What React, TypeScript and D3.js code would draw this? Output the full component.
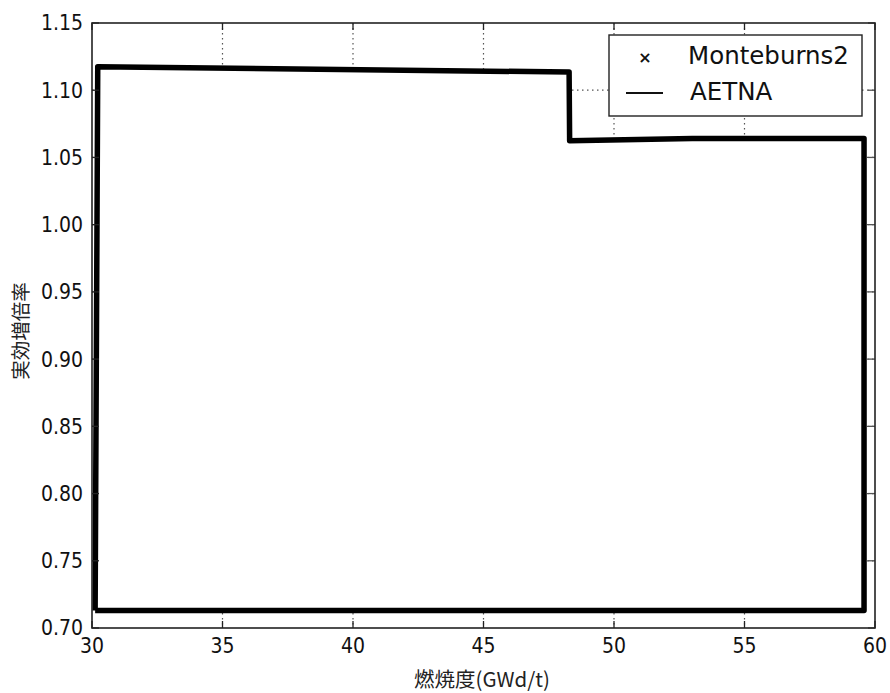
import React from "react";
import * as d3 from "d3";

const burnup = [30.12, 30.22, 48.28, 48.3, 53.0, 59.58, 59.58, 30.12];
const keff = [0.713, 1.1175, 1.1135, 1.0625, 1.064, 1.064, 0.713, 0.713];
const monteburnsX: number[] = [];
const monteburnsY: number[] = [];
const xTicks = [30, 35, 40, 45, 50, 55, 60];
const yTicks = [0.7, 0.75, 0.8, 0.85, 0.9, 0.95, 1.0, 1.05, 1.1, 1.15];
const legendLabels = ["Monteburns2", "AETNA"];
const xLabel = "燃焼度(GWd/t)";
const yLabel = "実効増倍率";

export default function App() {
  const W = 890, H = 693;
  const L = 92, R = 875, T = 23, B = 628;
  const x = d3.scaleLinear().domain([30, 60]).range([L, R]);
  const y = d3.scaleLinear().domain([0.7, 1.15]).range([B, T]);
  const pts = burnup.map((b, i) => [b, keff[i]] as [number, number]);
  const line = d3.line<[number, number]>().x(d => x(d[0])).y(d => y(d[1]));
  const font = "'DejaVu Sans', sans-serif";
  const cjk = "'Noto Sans CJK JP', sans-serif";
  const tick = 7;
  return (
    <svg width={W} height={H} style={{ position: "absolute", left: 0, top: 0, background: "#fff" }}>
      <rect x={0} y={0} width={W} height={H} fill="#fff" />
      {/* grid */}
      {xTicks.slice(1, -1).map(t => (
        <line key={"gx" + t} x1={x(t)} x2={x(t)} y1={T} y2={B} stroke="#555" strokeWidth={1.2} strokeDasharray="1.5,3.5" />
      ))}
      {yTicks.slice(1, -1).map(t => (
        <line key={"gy" + t} x1={L} x2={R} y1={y(t)} y2={y(t)} stroke="#555" strokeWidth={1.2} strokeDasharray="1.5,3.5" />
      ))}
      {/* AETNA line (closed, white interior) */}
      <path d={line(pts) || ""} fill="#fff" stroke="#000" strokeWidth={5.5} strokeLinejoin="round" />
      {/* ticks */}
      {xTicks.map(t => (
        <g key={"tx" + t}>
          <line x1={x(t)} x2={x(t)} y1={B} y2={B - tick} stroke="#222" strokeWidth={1.3} />
          <line x1={x(t)} x2={x(t)} y1={T} y2={T + tick} stroke="#222" strokeWidth={1.3} />
          <text x={x(t)} y={653} textAnchor="middle" fontFamily={font} fontSize={21} fill="#111"
            transform={`translate(${x(t)},0) scale(0.9,1) translate(${-x(t)},0)`}>{t}</text>
        </g>
      ))}
      {yTicks.map(t => (
        <g key={"ty" + t}>
          <line x1={L} x2={L + tick} y1={y(t)} y2={y(t)} stroke="#222" strokeWidth={1.3} />
          <line x1={R} x2={R - tick} y1={y(t)} y2={y(t)} stroke="#555" strokeWidth={1.3} />
          <text x={83} y={y(t) + 7.5} textAnchor="end" fontFamily={font} fontSize={21} fill="#111"
            transform={`translate(83,0) scale(0.9,1) translate(-83,0)`}>{t.toFixed(2)}</text>
        </g>
      ))}
      {monteburnsX.map((v, i) => (
        <text key={"m" + i} x={x(v)} y={y(monteburnsY[i])} textAnchor="middle" fontSize={12}>×</text>
      ))}
      {/* frame */}
      <rect x={L} y={T} width={R - L} height={B - T} fill="none" stroke="#222" strokeWidth={1.6} />
      {/* legend */}
      <rect x={609} y={35} width={253} height={81} fill="#fff" stroke="#222" strokeWidth={1.4} />
      <text x={645} y={63} textAnchor="middle" fontFamily={font} fontSize={16} fontWeight="bold" fill="#111">×</text>
      <line x1={626} x2={663} y1={93} y2={93} stroke="#111" strokeWidth={2} />
      <text x={688} y={64} fontFamily={font} fontSize={24.5} fill="#111">{legendLabels[0]}</text>
      <text x={690} y={100} fontFamily={font} fontSize={24.5} fill="#111">{legendLabels[1]}</text>
      {/* axis labels */}
      <text x={482} y={687} textAnchor="middle" fontFamily={cjk} fontSize={20.5} fill="#222">{xLabel}</text>
      <text transform="translate(28,331) rotate(-90)" textAnchor="middle" fontFamily={cjk} fontSize={19.5} fill="#222">{yLabel}</text>
    </svg>
  );
}
